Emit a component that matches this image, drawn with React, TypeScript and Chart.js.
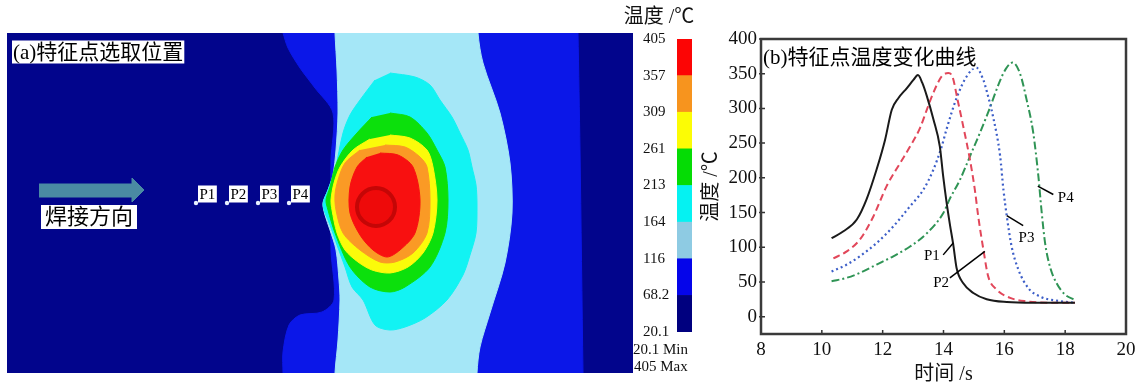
import React, { useEffect, useRef } from "react";
import { Chart, registerables } from "chart.js";
Chart.register(...registerables);

const SERIF = "'Liberation Serif', 'Noto Sans CJK SC', serif";

// ---------------- (a) contour map: zones in plate units (x 0..125.2, y 0..68) ----------------
type Pt = [number, number];
const BLUE_ZONE: Pt[] = [[55,73],[114.1,73],[114.2,68],[114.6,44.6],[115.2,0],[115.3,-5],[55.2,-5],[55.2,0],[55.2,4.2],[56.4,9.6],[58.6,11.6],[63,12.2],[65.4,14.6],[64.8,24.6],[64.8,42.6],[65.2,52],[61.6,57],[58.6,61],[56.2,65],[55.2,68]];
const LIGHTBLUE_ZONE: Pt[] = [[65.5,73],[65.6,68],[66,60.6],[66.2,52],[65.8,44.6],[65.2,39.6],[64.2,36.6],[63.2,34],[63.6,31.6],[64.6,28.6],[65.8,24.6],[66.4,18.6],[66.6,14.6],[66.2,6.6],[65.6,0],[65.6,-5],[94,-5],[94,0],[94.6,5.2],[96.6,12],[99.6,22],[101,32],[100.6,42],[98.6,52],[95.2,62],[94.2,68],[94.3,73]];
const CYAN_ZONE: Pt[] = [[76.6,60],[81.6,59.2],[84.6,57.6],[86.6,54.6],[89,51.2],[90.6,48],[92.2,44.6],[93,41.2],[93.8,37.6],[94,33.6],[93.8,28],[92.6,23.6],[91.2,19.6],[88,14.6],[83.6,11],[79.6,9.2],[76.6,8.6],[73.6,9.6],[71.2,14.6],[69,17.2],[67.6,21.2],[66,25.6],[64.6,29.6],[63.2,33.6],[64.2,36.6],[65.6,40.6],[67.2,48],[68.6,51.6],[70.6,54.6],[73.6,58.6]];
const GREEN_ZONE: Pt[] = [[76.6,52],[80.6,51.2],[84,48],[86,44.6],[87.6,41.2],[88.2,34.6],[87.6,28],[84.6,21.2],[79.6,17.2],[76.6,16.2],[72.6,17.2],[68.6,21.2],[65.6,28],[64.2,32.6],[63.8,34.6],[64.6,37.2],[65.6,41.2],[67.2,44.6],[70,48],[73,51.2]];
const YELLOW_ZONE: Pt[] = [[76.6,47.6],[80.6,47],[84,44.6],[85.2,41.2],[86,34.6],[85.2,28],[83.2,24],[80.2,21.2],[76.6,20],[73,20.6],[70.2,22.2],[67.6,24.6],[66,28],[65,32.6],[64.8,34.6],[65.4,38],[66.6,41.2],[69.2,44.6],[72.6,46.8]];
const ORANGE_ZONE: Pt[] = [[75.6,45.6],[79.6,45.2],[82.6,43.2],[84,41.2],[84.6,34.6],[84,28],[81.2,24],[77.6,22.2],[74.6,22.2],[70.6,24.6],[67.2,28],[65.8,32.6],[65.6,35.6],[66.2,38.6],[67.6,42],[70.6,44.6]];
const RED_ZONE: Pt[] = [[74.6,44],[78.2,43.6],[81.2,41.2],[82.6,34.6],[81.6,28],[78.6,24.6],[76,23.2],[73.2,24.6],[70.6,27.6],[68.6,32],[68.6,37.2],[70,41.2],[72,43.2]];
const HOT_CENTER: Pt[] = [[73.8,33.2]];
const WELD_ARROW: Pt[] = [[6.4,37.8],[25,37.8],[25,39],[27.4,36.6],[25,34.2],[25,35.2],[6.4,35.2]];
const PROBE_LABELS = ["P1", "P2", "P3", "P4"];
const PROBE_X = [37.8, 44, 50.2, 56.4];
const PROBE_Y = [34, 34, 34, 34];

// colour bar
const LEVELS = [20.1, 68.2, 116.3, 164.4, 212.6, 260.7, 308.8, 356.9, 405];
const LEVEL_LABELS = ["20.1", "68.2", "116", "164", "213", "261", "309", "357", "405"];
const BAR_COLORS = ["#00007f", "#0505ea", "#8ecbe3", "#05f2f2", "#05dc05", "#fcfc05", "#f7941e", "#fc0505"];

// ---------------- (b) temperature curves ----------------
const P1_TIME = [10.32,10.71,11.15,11.47,11.80,12.08,12.30,12.52,12.79,13.01,13.16,13.30,13.45,13.67,13.88,13.99,14.10,14.21,14.32,14.43,14.65,14.98,15.42,16.08,16.95,18.32];
const P1_TEMP = [113,123,140,169,212,255,298,315,329,341,348,337,318,284,245,202,165,133,104,70,48,34,25,21,20,20];
const P2_TIME = [10.38,10.82,11.25,11.69,12.13,12.57,12.90,13.23,13.45,13.66,13.94,14.16,14.30,14.46,14.65,14.87,15.03,15.14,15.31,15.47,15.75,16.19,16.73,17.50,18.32];
const P2_TEMP = [84,94,111,144,188,221,245,272,298,322,346,351,345,313,274,226,183,145,97,58,39,27,22,20,20];
const P3_TIME = [10.32,10.82,11.25,11.80,12.35,12.90,13.34,13.67,13.94,14.10,14.43,14.76,15.07,15.31,15.42,15.64,15.86,15.97,16.08,16.24,16.46,16.79,17.17,17.72,18.32];
const P3_TEMP = [65,75,87,106,130,159,183,212,245,270,315,346,359,341,325,286,232,183,145,101,68,41,29,23,20];
const P4_TIME = [10.32,10.82,11.25,11.80,12.35,12.90,13.45,13.99,14.21,14.54,14.87,15.20,15.50,15.86,16.05,16.27,16.51,16.73,16.95,17.12,17.22,17.34,17.50,17.72,17.99,18.32];
const P4_TEMP = [51,56,63,75,87,101,120,149,170,197,231,265,298,340,357,366,351,313,265,202,154,106,72,48,32,24];

const CALLOUT_TEXT_T = [13.62, 13.92, 16.73, 18.02];
const CALLOUT_TEXT_V = [87, 48, 113, 171];
const CALLOUT_FROM_T = [13.99, 14.21, 16.62, 17.61];
const CALLOUT_FROM_V = [89, 56, 131, 176];
const CALLOUT_TO_T = [14.32, 15.36, 16.08, 17.10];
const CALLOUT_TO_V = [106, 94, 145.5, 188];
const Y_TICKS = [0, 50, 100, 150, 200, 250, 300, 350, 400];
const X_INNER_TICKS = [10, 12, 14, 16, 18];

const toXY = (pts: Pt[]) => pts.map(([x, y]) => ({ x, y }));
const zip = (xs: number[], ys: number[]) => xs.map((x, i) => ({ x, y: ys[i] }));

function boxText(ctx: CanvasRenderingContext2D, text: string, x: number, cy: number, size: number, pad: number) {
  ctx.font = `${size}px ${SERIF}`;
  const w = ctx.measureText(text).width;
  const h = size + 2;
  ctx.fillStyle = "#fff";
  ctx.fillRect(x, cy - h / 2, w + pad * 2, h);
  ctx.fillStyle = "#000";
  ctx.textAlign = "left";
  ctx.textBaseline = "middle";
  ctx.fillText(text, x + pad, cy + 1);
}

function zone(pts: Pt[], color: string) {
  return {
    data: toXY(pts),
    backgroundColor: color,
    borderColor: color,
    borderWidth: 1,
    fill: "shape",
    pointRadius: 0,
    tension: 0.3,
  };
}

const NAVY = "#02058c";

function leftConfig(): any {
  const overlay = {
    id: "leftOverlay",
    beforeDraw(chart: any) {
      const { ctx, chartArea: a } = chart;
      ctx.save();
      ctx.fillStyle = NAVY;
      ctx.fillRect(a.left, a.top, a.right - a.left, a.bottom - a.top);
      ctx.restore();
    },
    afterDraw(chart: any) {
      const { ctx, chartArea: a, scales } = chart;
      ctx.save();
      boxText(ctx, "(a)特征点选取位置", a.left + 5, a.top + 19, 21, 1);
      boxText(ctx, "焊接方向", a.left + 34, a.top + 184, 22, 4);
      PROBE_LABELS.forEach((lab, i) => {
        const px = scales.x.getPixelForValue(PROBE_X[i]);
        const py = scales.y.getPixelForValue(PROBE_Y[i]);
        boxText(ctx, lab, px + 2, py - 9, 15, 1.5);
      });
      ctx.restore();
    },
  };
  return {
    type: "line",
    data: {
      datasets: [
        { data: zip(PROBE_X, PROBE_Y), showLine: false, pointRadius: 2.2, pointBackgroundColor: "#e8f0ff", pointBorderWidth: 0 },
        { data: toXY(HOT_CENTER), showLine: false, pointRadius: 19, pointBackgroundColor: "#ee0a0a", pointBorderColor: "#c40606", pointBorderWidth: 4 },
        zone(RED_ZONE, "#f81010"),
        zone(ORANGE_ZONE, "#fa9a25"),
        zone(YELLOW_ZONE, "#fbfb0a"),
        zone(GREEN_ZONE, "#0ce00c"),
        zone(CYAN_ZONE, "#12f3f3"),
        zone(LIGHTBLUE_ZONE, "#a5e7f7"),
        zone(BLUE_ZONE, "#0b17e8"),
        { ...zone(WELD_ARROW, "#4a8aa3"), tension: 0 },
      ],
    },
    options: {
      animation: false,
      responsive: false,
      events: [],
      layout: { autoPadding: false, padding: { left: 7, top: 33, right: 7, bottom: 15 } },
      scales: {
        x: { type: "linear", min: 0, max: 125.2, display: false },
        y: { type: "linear", min: 0, max: 68, display: false },
      },
      plugins: { legend: { display: false }, tooltip: { enabled: false } },
    },
    plugins: [overlay],
  };
}

function barConfig(): any {
  const overlay = {
    id: "barOverlay",
    afterDraw(chart: any) {
      const { ctx } = chart;
      ctx.save();
      ctx.fillStyle = "#111";
      ctx.textBaseline = "middle";
      ctx.textAlign = "center";
      ctx.font = `20px ${SERIF}`;
      ctx.fillText("温度 /℃", 49, 18);
      ctx.textAlign = "left";
      ctx.font = `15px ${SERIF}`;
      ctx.fillText("20.1 Min", 23, 350);
      ctx.fillText("405 Max", 24, 367);
      ctx.restore();
    },
  };
  return {
    type: "bar",
    data: {
      labels: ["T"],
      datasets: BAR_COLORS.map((c, i) => ({
        data: [[LEVELS[i], LEVELS[i + 1]]],
        backgroundColor: c,
        borderWidth: 0,
        barPercentage: 1,
        categoryPercentage: 1,
        grouped: false,
      })),
    },
    options: {
      animation: false,
      responsive: false,
      events: [],
      layout: { autoPadding: false, padding: { left: 33, top: 39, right: 8, bottom: 56 } },
      scales: {
        x: { display: false },
        y: {
          type: "linear",
          min: 20.1,
          max: 405,
          position: "left",
          grid: { display: false, drawTicks: false },
          border: { display: false },
          afterBuildTicks: (s: any) => { s.ticks = LEVELS.map((v) => ({ value: v })); },
          afterFit: (s: any) => { s.width = 34; },
          ticks: {
            crossAlign: "far",
            padding: 0,
            color: "#111",
            font: { family: SERIF, size: 15 },
            callback: (_v: any, i: number) => LEVEL_LABELS[i],
          },
        },
      },
      plugins: { legend: { display: false }, tooltip: { enabled: false } },
    },
    plugins: [overlay],
  };
}

function rightConfig(): any {
  const overlay = {
    id: "rightOverlay",
    afterDraw(chart: any) {
      const { ctx, chartArea: a, scales: { x, y } } = chart;
      ctx.save();
      ctx.strokeStyle = "#333";
      ctx.lineWidth = 1.5;
      ctx.beginPath();
      Y_TICKS.forEach((v) => { const py = y.getPixelForValue(v); ctx.moveTo(a.left - 2, py); ctx.lineTo(a.left + 4, py); });
      X_INNER_TICKS.forEach((v) => { const px = x.getPixelForValue(v); ctx.moveTo(px, a.bottom); ctx.lineTo(px, a.bottom - 4); });
      ctx.stroke();
      ctx.lineWidth = 2.5;
      ctx.strokeStyle = "#3a3a3a";
      ctx.strokeRect(a.left, a.top, a.right - a.left, a.bottom - a.top);
      boxText(ctx, "(b)特征点温度变化曲线", a.left + 2, a.top + 18, 21, 0);
      ctx.font = `15px ${SERIF}`;
      ctx.fillStyle = "#000";
      ctx.textAlign = "center";
      ctx.textBaseline = "middle";
      PROBE_LABELS.forEach((lab, i) => {
        ctx.fillText(lab, x.getPixelForValue(CALLOUT_TEXT_T[i]), y.getPixelForValue(CALLOUT_TEXT_V[i]));
      });
      ctx.restore();
    },
  };
  const curve = (t: number[], v: number[], color: string, dash: number[], w: number) => ({
    data: zip(t, v),
    borderColor: color,
    borderWidth: w,
    borderDash: dash,
    pointRadius: 0,
    fill: false,
    cubicInterpolationMode: "monotone",
  });
  const callouts = PROBE_LABELS.map((_l, i) => ({
    data: [
      { x: CALLOUT_FROM_T[i], y: CALLOUT_FROM_V[i] },
      { x: CALLOUT_TO_T[i], y: CALLOUT_TO_V[i] },
    ],
    borderColor: "#000",
    borderWidth: 1.5,
    pointRadius: 0,
    fill: false,
  }));
  return {
    type: "line",
    data: {
      datasets: [
        ...callouts,
        curve(P1_TIME, P1_TEMP, "#1a1a1a", [], 2),
        curve(P2_TIME, P2_TEMP, "#e2475a", [7, 4], 2),
        curve(P3_TIME, P3_TEMP, "#3c5ec8", [2, 3], 2.2),
        curve(P4_TIME, P4_TEMP, "#2f9455", [8, 3, 2, 3], 2),
      ],
    },
    options: {
      animation: false,
      responsive: false,
      events: [],
      layout: { autoPadding: false, padding: { left: 0, top: 39, right: 19, bottom: 0 } },
      scales: {
        x: {
          type: "linear",
          min: 8,
          max: 20,
          grid: { display: false, drawTicks: false },
          border: { display: false },
          afterFit: (s: any) => { s.height = 54; },
          ticks: { stepSize: 2, padding: 5, color: "#111", font: { family: SERIF, size: 19 } },
          title: { display: true, text: "时间 /s", color: "#111", font: { family: SERIF, size: 20 }, padding: { top: 0, bottom: 1 } },
        },
        y: {
          type: "linear",
          min: -25,
          max: 400,
          grid: { display: false, drawTicks: false },
          border: { display: false },
          afterBuildTicks: (s: any) => { s.ticks = Y_TICKS.map((v) => ({ value: v })); },
          afterFit: (s: any) => { s.width = 61; },
          ticks: { padding: 4, color: "#111", font: { family: SERIF, size: 19 } },
          title: { display: true, text: "温度 /℃", color: "#111", font: { family: SERIF, size: 20 }, padding: { top: 0, bottom: 0 } },
        },
      },
      plugins: { legend: { display: false }, tooltip: { enabled: false } },
    },
    plugins: [overlay],
  };
}

function ChartCanvas({ make, left, width }: { make: () => any; left: number; width: number }) {
  const ref = useRef<HTMLCanvasElement>(null);
  useEffect(() => {
    const chart = new Chart(ref.current as HTMLCanvasElement, make());
    return () => chart.destroy();
  }, []);
  return (
    <canvas
      ref={ref}
      width={width}
      height={388}
      style={{ position: "absolute", left, top: 0, width, height: 388 }}
    />
  );
}

export default function App() {
  return (
    <div style={{ position: "absolute", left: 0, top: 0, width: 1145, height: 388, background: "#fff", overflow: "hidden" }}>
      <ChartCanvas make={leftConfig} left={0} width={640} />
      <ChartCanvas make={barConfig} left={610} width={90} />
      <ChartCanvas make={rightConfig} left={700} width={445} />
    </div>
  );
}
